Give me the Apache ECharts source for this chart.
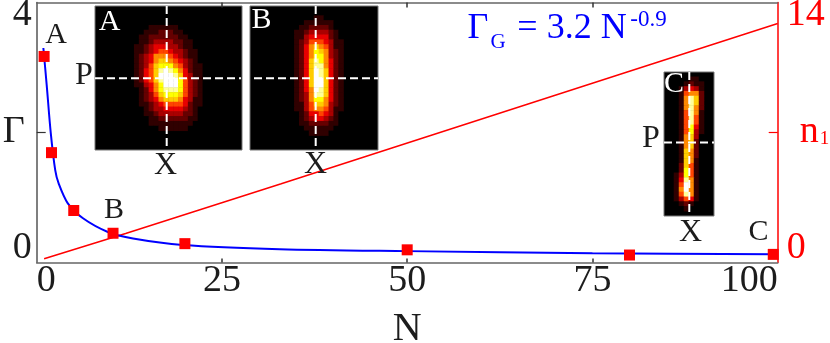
<!DOCTYPE html>
<html>
<head>
<meta charset="utf-8">
<style>html,body{margin:0;padding:0;background:#fff}#c{width:830px;height:343px}</style>
<script src="https://cdn.jsdelivr.net/npm/echarts@6/dist/echarts.min.js"></script>
</head>
<body>
<div id="c"></div>
<script>
const xTicks = [0, 25, 50, 75, 100];
const gammaTicks = [0, 4];
const n1Ticks = [0, 14];

const markerN = [1, 2, 5, 10.3, 20, 50, 80, 99.4];
const markerGamma = [3.17, 1.69, 0.8, 0.45, 0.29, 0.195, 0.115, 0.125];

const curveN = [0.9, 1.35, 1.9, 2.5, 2.95, 4.2, 6.25, 9.6, 13, 19.7, 32.8, 50, 75, 99.5];
const curveGamma = [3.3, 2.73, 1.99, 1.42, 1.22, 0.91, 0.68, 0.47, 0.37, 0.27, 0.205, 0.175, 0.143, 0.128];

const redN = [1, 12, 33, 80, 100];
const redN1 = [0.2, 1.56, 4.24, 10.3, 12.87];

// Inset intensities on a 0-10 scale
const insetAFirstCol = 6, insetAFirstRow = 4;
const insetA = [
[0,0,0,0,0,1,1,1,1,1,1,0,0,0,0,0,0],
[0,0,0,0,1,1,1,2,2,2,1,1,0,0,0,0,0],
[0,0,0,1,1,2,2,2,2,2,2,1,1,0,0,0,0],
[0,0,0,1,1,2,3,3,3,3,2,2,1,1,0,0,0],
[0,0,1,1,2,3,4,4,4,3,3,2,1,1,0,0,0],
[0,0,1,1,2,3,4,5,5,4,3,3,2,1,1,0,0],
[0,0,1,2,3,4,6,6,6,5,4,3,2,1,1,0,0],
[0,0,1,2,3,4,6,7,7,6,5,4,3,2,1,0,0],
[0,0,1,2,3,5,7,8,8,8,6,5,3,2,1,1,0],
[0,0,1,2,4,5,7,9,10,9,8,6,4,2,1,1,0],
[0,0,1,2,4,5,7,10,10,10,9,7,4,3,1,1,0],
[0,0,1,2,4,5,7,9,10,10,10,8,5,3,2,1,0],
[0,0,1,1,3,4,6,8,10,10,10,8,5,3,2,1,0],
[0,0,0,1,2,4,6,8,9,9,9,8,5,3,2,1,0],
[0,0,0,1,2,3,5,7,8,8,8,7,5,3,2,1,0],
[0,0,0,1,2,3,4,6,7,7,7,6,4,3,1,1,0],
[0,0,0,1,1,2,3,4,5,5,5,5,4,2,1,1,0],
[0,0,0,0,1,2,3,3,4,4,4,4,3,2,1,0,0],
[0,0,0,0,1,1,2,3,3,3,3,3,2,2,1,0,0],
[0,0,0,0,0,1,1,2,2,2,2,2,2,1,1,0,0],
[0,0,0,0,0,1,1,1,1,1,1,1,1,1,0,0,0],
[0,0,0,0,0,0,0,1,1,1,1,1,1,0,0,0,0]
];
const insetBFirstCol = 7, insetBFirstRow = 2;
const insetB = [
[0,0,0,0,0,0,1,1,0,0,0,0],
[0,0,0,0,1,1,1,1,1,1,0,0],
[0,0,0,1,1,2,2,2,2,1,0,0],
[0,0,1,1,2,3,3,3,3,2,1,0],
[0,0,1,1,3,4,4,4,4,2,1,0],
[0,0,1,2,3,5,5,5,4,3,1,1],
[0,0,1,2,4,6,7,6,5,3,1,1],
[0,0,1,2,4,6,8,7,6,3,2,1],
[0,0,1,2,4,6,8,8,6,3,2,1],
[0,0,1,2,4,7,9,8,6,4,2,1],
[0,0,1,2,4,7,9,9,6,4,2,1],
[0,0,1,2,4,7,10,9,7,4,2,1],
[0,0,1,2,4,7,10,9,7,4,2,1],
[0,0,1,2,4,7,10,10,7,4,2,1],
[0,0,1,2,4,7,10,10,7,4,2,1],
[0,0,1,2,4,6,10,9,7,4,2,1],
[0,0,1,2,3,6,9,9,7,4,2,1],
[0,0,1,2,3,6,8,8,6,4,2,1],
[0,0,1,1,3,5,7,7,6,3,2,1],
[0,0,1,1,3,5,6,6,5,3,1,1],
[0,0,0,1,2,4,4,5,4,3,1,0],
[0,0,0,1,2,3,4,4,3,2,1,0],
[0,0,0,1,1,2,2,2,2,1,1,0],
[0,0,0,0,1,1,1,1,1,1,0,0],
[0,0,0,0,0,1,1,1,1,0,0,0]
];
const insetCFirstCol = 2, insetCFirstRow = 1;
const insetC = [
[0,0,0,1,1,0],
[0,0,1,2,1,1],
[0,1,3,4,3,1],
[0,1,5,6,6,2],
[0,1,6,9,7,2],
[0,1,6,9,7,2],
[0,1,6,9,6,2],
[0,1,5,9,6,1],
[0,1,5,9,5,1],
[0,1,5,9,5,1],
[0,1,5,8,4,1],
[0,1,5,8,3,1],
[0,1,6,7,3,0],
[0,1,6,7,2,0],
[0,1,6,7,2,0],
[0,1,7,6,2,0],
[0,1,7,6,2,0],
[0,1,7,6,1,0],
[0,2,7,5,1,0],
[0,2,8,5,1,0],
[1,3,8,5,1,0],
[1,4,9,6,1,0],
[1,5,10,6,1,0],
[1,6,10,6,1,0],
[1,5,9,6,1,0],
[1,3,5,4,1,0],
[0,1,2,1,0,0],
[0,0,1,0,0,0]
];

const SERIF = '"Liberation Serif","Times New Roman",serif';
const INK = '#1c1c1c', AXIS = '#666666', RED = '#ff0000', BLUE = '#0000ff';

function pairs(a, b) { return a.map((v, i) => [v, b[i]]); }
function cells(rows, firstCol, firstRow) {
  const out = [];
  rows.forEach((r, j) => r.forEach((v, i) => out.push([i + firstCol, j + firstRow, v])));
  return out;
}
function indices(n) { return Array.from({length: n}, (_, i) => String(i)); }

function text(x, y, s, size, fill) {
  return {type: 'text', z: 100, silent: true,
    style: {x, y, text: s, fill, font: size + 'px ' + SERIF, align: 'center', verticalAlign: 'middle'}};
}
function dash(x1, y1, x2, y2) {
  return {type: 'line', z: 90, silent: true, shape: {x1, y1, x2, y2},
    style: {stroke: '#ffffff', lineWidth: 2, lineDash: [8, 4]}};
}
function endLabelRich(color) {
  return {
    lo: {fontSize: 38, color, fontFamily: SERIF, padding: [0, 0, 28, 0]},
    hi: {fontSize: 38, color, fontFamily: SERIF, padding: [26, 0, 0, 0]}
  };
}
function endLabelFormatter(v) { return v === 0 ? '{lo|' + v + '}' : '{hi|' + v + '}'; }

const insets = [
  {left: 95, top: 6, width: 147, height: 144, cols: 30, data: cells(insetA, insetAFirstCol, insetAFirstRow)},
  {left: 250, top: 6, width: 128, height: 144, cols: 26, data: cells(insetB, insetBFirstCol, insetBFirstRow)},
  {left: 664, top: 72, width: 50, height: 144, cols: 10, data: cells(insetC, insetCFirstCol, insetCFirstRow)}
];

const mainTicks = {show: true, inside: true, length: 4, lineStyle: {color: '#333', width: 1.5}, customValues: [25, 50, 75]};

const option = {
  animation: false,
  backgroundColor: '#fff',
  textStyle: {fontFamily: SERIF},
  grid: [{left: 36.7, top: 2.5, width: 741, height: 260, outerBoundsMode: 'none'}].concat(insets.map(g => ({
    left: g.left, top: g.top, width: g.width, height: g.height, show: true, outerBoundsMode: 'none',
    backgroundColor: '#000', borderColor: '#777', borderWidth: 1
  }))),
  xAxis: [
    {type: 'value', gridIndex: 0, min: 0, max: 100, interval: 25, position: 'bottom',
     name: 'N', nameLocation: 'middle', nameGap: 47, nameMoveOverlap: false, nameTextStyle: {fontSize: 40, color: INK, fontFamily: SERIF},
     splitLine: {show: false}, axisLine: {onZero: false, lineStyle: {color: AXIS, width: 1.5}}, axisTick: mainTicks,
     axisLabel: {fontSize: 38, color: INK, fontFamily: SERIF, margin: 0, alignMinLabel: 'left', alignMaxLabel: 'right',
       customValues: xTicks}},
    {type: 'value', gridIndex: 0, min: 0, max: 100, interval: 25, position: 'top',
     splitLine: {show: false}, axisLine: {onZero: false, lineStyle: {color: AXIS, width: 1.5}},
     axisTick: Object.assign({}, mainTicks, {length: 5}), axisLabel: {show: false}}
  ].concat(insets.map((g, i) => ({
    type: 'category', gridIndex: i + 1, data: indices(g.cols), show: false
  }))),
  yAxis: [
    {type: 'value', gridIndex: 0, min: 0, max: 4, interval: 2, position: 'left',
     name: 'Γ', nameLocation: 'middle', nameRotate: 0, nameGap: 12, nameMoveOverlap: false, nameTextStyle: {fontSize: 38, color: INK, fontFamily: SERIF},
     splitLine: {show: false}, axisLine: {onZero: false, lineStyle: {color: '#555', width: 1.5}},
     axisTick: {show: true, inside: true, length: 9, lineStyle: {color: '#333', width: 1.2}, customValues: [2]},
     axisLabel: {color: INK, fontFamily: SERIF, margin: 5, customValues: gammaTicks,
       formatter: endLabelFormatter, rich: endLabelRich(INK)}},
    {type: 'value', gridIndex: 0, min: 0, max: 14, interval: 7, position: 'right',
     name: '{n|n}{s|1}', nameLocation: 'middle', nameRotate: 0, nameGap: 22, nameMoveOverlap: false,
     nameTextStyle: {color: RED, fontFamily: SERIF, rich: {
       n: {fontSize: 38, color: RED, fontFamily: SERIF},
       s: {fontSize: 19, color: RED, fontFamily: SERIF, padding: [14, 0, 0, 1]}
     }},
     splitLine: {show: false}, axisLine: {onZero: false, lineStyle: {color: RED, width: 1.5}},
     axisTick: {show: true, inside: true, length: 9, lineStyle: {color: RED, width: 1.2}, customValues: [7]},
     axisLabel: {color: RED, fontFamily: SERIF, margin: 9, customValues: n1Ticks,
       formatter: endLabelFormatter, rich: endLabelRich(RED)}}
  ].concat(insets.map((g, i) => ({
    type: 'category', gridIndex: i + 1, data: indices(30), inverse: true, show: false
  }))),
  visualMap: {
    show: false, type: 'continuous', min: 0, max: 10, seriesIndex: [3, 4, 5], dimension: 2,
    inRange: {color: ['#000000', '#300000', '#660000', '#aa0000', '#e80000', '#ff4400', '#ff8800', '#ffcc00', '#ffff00', '#ffff99', '#ffffff']}
  },
  series: [
    {type: 'line', xAxisIndex: 0, yAxisIndex: 1, data: pairs(redN, redN1), symbol: 'none', z: 3,
     lineStyle: {color: RED, width: 1.5}},
    {type: 'line', xAxisIndex: 0, yAxisIndex: 0, data: pairs(curveN, curveGamma), symbol: 'none', smooth: 0.3, z: 4,
     lineStyle: {color: BLUE, width: 2}},
    {type: 'scatter', xAxisIndex: 0, yAxisIndex: 0, data: pairs(markerN, markerGamma), symbol: 'rect', symbolSize: 11, z: 5,
     itemStyle: {color: RED, opacity: 1}}
  ].concat(insets.map((g, i) => ({
    type: 'heatmap', xAxisIndex: i + 2, yAxisIndex: i + 2, data: g.data, z: 6
  }))),
  graphic: {elements: [
    dash(95, 78.3, 241, 78.3), dash(166.7, 6, 166.7, 150),
    dash(254, 78.3, 378, 78.3), dash(315.7, 6, 315.7, 150),
    dash(664, 142.5, 714, 142.5), dash(689.3, 72, 689.3, 216),
    text(56, 35.5, 'A', 30, INK), text(114, 210.5, 'B', 30, INK), text(758.5, 232.5, 'C', 30, INK),
    text(109.5, 22, 'A', 30, '#fff'), text(261.5, 20, 'B', 30, '#fff'), text(674, 84, 'C', 30, '#fff'),
    text(84, 76, 'P', 32, INK), text(651, 138.5, 'P', 32, INK),
    text(165.5, 166, 'X', 32, INK), text(315.5, 165, 'X', 32, INK), text(690.5, 232.5, 'X', 32, INK),
    text(478, 28.5, 'Γ', 36, BLUE), text(498, 42.5, 'G', 21, BLUE), text(572, 28.5, '= 3.2 N', 36, BLUE), text(648.5, 20, '-0.9', 23, BLUE)
  ]}
};
const chart = echarts.init(document.getElementById('c'), null, {renderer: 'canvas'});
chart.setOption(option);
</script>
</body>
</html>
